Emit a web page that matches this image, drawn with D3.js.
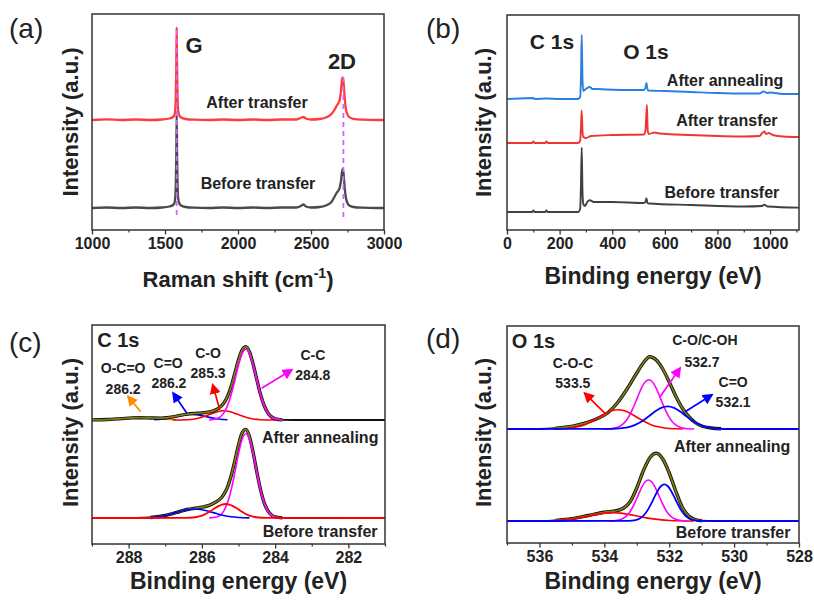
<!DOCTYPE html>
<html><head><meta charset="utf-8">
<script src="https://cdn.jsdelivr.net/npm/d3@7"></script>
<style>body{margin:0;background:#fff}svg{display:block}</style>
</head><body>
<svg id="fig" width="814" height="601"></svg>
<script>
// ---------------- DATA ----------------
// (a) Raman spectra: [Raman shift, intensity above own baseline]
const ramanTicks = [1000,1500,2000,2500,3000];
const ramanMinor = [1250,1750,2250,2750];
const ramanOffsets = {after:110, before:22};
const ramanAfter = [[1000,0],[1100,0.6],[1200,0],[1300,0.5],[1400,0],[1480,0.5],[1530,1.5],[1555,3],[1565,5],[1570,10],[1574,25],[1577,50],[1580,92.7],[1583,50],[1586,25],[1590,10],[1597,5],[1610,2.5],[1640,1],[1700,0.3],[1800,0],[1900,0.5],[2000,0],[2100,0.5],[2200,0],[2300,0.5],[2400,0.5],[2430,2],[2448,3],[2465,1.5],[2500,0.5],[2560,1],[2610,3],[2640,6],[2660,10],[2675,14],[2688,17],[2698,21],[2706,30],[2712,40],[2718,42.7],[2724,36],[2730,24],[2738,12],[2748,6],[2762,3],[2790,1.2],[2850,0.3],[2950,0],[3000,0]];
const ramanBefore = [[1000,0],[1100,0.5],[1200,0],[1300,0.5],[1400,0],[1480,0.5],[1530,1.5],[1555,3],[1565,5],[1570,10],[1574,25],[1577,50],[1580,93],[1583,50],[1586,25],[1590,10],[1597,5],[1610,2.5],[1640,1],[1700,0.3],[1800,0],[1900,0.5],[2000,0],[2100,0.5],[2200,0],[2300,0.5],[2400,0.5],[2430,2],[2448,3.5],[2465,1.5],[2500,0.5],[2560,1],[2610,3],[2640,6],[2660,11],[2675,15],[2688,17.5],[2698,21],[2706,28],[2712,36],[2718,39],[2724,33],[2730,22],[2738,11],[2748,5.5],[2762,2.5],[2790,1],[2850,0.3],[2950,0],[3000,0]];
const ramanGuides = [[1580,200,12],[2722,153,12]]; // x, top, bottom

// (b) XPS survey
const surveyTicks = [0,200,400,600,800,1000];
const surveyMinor = [100,300,500,700,900,1100];
const surveyOffsets = {annealing:131, transfer:87, before:18};
const surveyAnnealing = [[0,0],[50,0.5],[100,1],[105,0],[150,0.5],[200,0],[270,0],[278,2],[281,20],[284,64],[287,20],[290,8],[295,9],[305,11],[315,12],[325,10],[340,10],[380,9.5],[450,9],[520,9],[526,11],[530,16],[533,11],[537,8.5],[600,8],[700,7],[800,6],[900,5.5],[960,5.5],[975,7.5],[990,6],[1000,6.5],[1050,5],[1110,5]];
const surveyTransfer = [[0,0],[95,0],[100,1.5],[105,0],[145,0],[150,1.5],[155,0],[270,0],[278,2],[281,15],[284,32.6],[287,12],[290,6],[300,5],[320,7],[400,8],[520,8.5],[526,12],[529,25],[532,38],[535,12],[540,9],[560,10.5],[580,9.5],[700,8],[900,6.5],[960,7],[970,10],[978,11.5],[985,9],[995,10],[1010,8],[1050,6.5],[1110,6]];
const surveyBefore = [[0,0],[95,0],[100,1.5],[105,0],[145,0],[150,1.5],[155,0],[270,0],[278,3],[281,25],[284,64.4],[287,20],[290,8],[297,6],[305,10],[315,11.7],[330,10],[400,10],[520,9],[526,10],[530,13.7],[534,9],[540,8.5],[700,7],[900,5.5],[970,6],[978,7.4],[990,5.5],[1110,4.4]];

// (c) C 1s high resolution
const c1sTicks = [288,286,284,282];
const c1sMinor = [289,287,285,283,281];
const c1sOffsets = {annealing:124, before:26};
const c1sEnvUp = [[289,0.08],[288.6,0.46],[288.2,1.4],[287.9,2.12],[287.7,2.31],[287.4,2.05],[287.1,1.89],[286.8,3.08],[286.6,4.56],[286.4,5.89],[286.2,6.55],[286,6.98],[285.8,8.09],[285.6,10.49],[285.4,16.89],[285.3,23.6],[285.2,33.66],[285.1,46.7],[285,60.2],[284.9,70.2],[284.8,73.4],[284.7,68],[284.6,55.8],[284.5,40.4],[284.4,25.7],[284.3,14.5],[284.2,7.2],[284,1.2],[283.8,0.12],[283.5,0],[281,0]];
const c1sCCUp = [[283.8,0.1],[284,1.2],[284.1,3.1],[284.2,7.1],[284.3,14.4],[284.4,25.5],[284.5,39.8],[284.6,54.8],[284.7,66.3],[284.8,70.7],[284.9,66.3],[285,54.8],[285.1,39.8],[285.2,25.5],[285.3,14.4],[285.4,7.1],[285.5,3.1],[285.6,1.2],[285.8,0.1]];
const c1sCOUp = [[284,0],[284.4,0.3],[284.6,1],[284.8,2.7],[285,5.4],[285.2,8.1],[285.4,9.3],[285.6,8.1],[285.8,5.4],[286,2.7],[286.2,1],[286.4,0.3],[286.8,0]];
const c1sCdOUp = [[285.3,0.25],[285.5,0.77],[285.7,1.85],[285.9,3.46],[286.1,5.03],[286.3,5.7],[286.5,5.03],[286.7,3.46],[286.9,1.85],[287.1,0.77],[287.3,0.25]];
const c1sOCOUp = [[286.7,0.31],[287,0.86],[287.3,1.68],[287.7,2.3],[288.1,1.68],[288.4,0.86],[288.7,0.31],[289,0.08]];
const c1sEnvLo = [[289,0],[287.8,0.05],[287.4,0.5],[287,2.5],[286.8,4.4],[286.6,6.5],[286.4,8.5],[286.2,9.7],[286,10.8],[285.8,12.7],[285.6,16.35],[285.5,19.15],[285.4,23.6],[285.3,30.9],[285.2,42.2],[285.1,57.1],[285,73.1],[284.9,85.1],[284.8,88.6],[284.7,81.3],[284.6,65.5],[284.5,46.1],[284.4,28.6],[284.3,15.35],[284.2,7.3],[284.1,3],[284,1.05],[283.8,0.1],[283.5,0],[281,0]];
const c1sCCLo = [[283.8,0.1],[284,1.05],[284.1,2.95],[284.2,7.2],[284.3,15.2],[284.4,28.2],[284.5,45.4],[284.6,64.1],[284.7,78.7],[284.8,84.3],[284.9,78.7],[285,64.1],[285.1,45.4],[285.2,28.2],[285.3,15.2],[285.4,7.2],[285.5,2.95],[285.6,1.05],[285.8,0.1]];
const c1sCOLo = [[289,0],[286.55,0.04],[286.35,0.24],[286.15,1],[286.05,1.9],[285.95,3.2],[285.85,5],[285.75,7.3],[285.65,9.7],[285.55,11.9],[285.45,13.4],[285.35,14],[285.25,13.4],[285.15,11.9],[285.05,9.7],[284.95,7.3],[284.85,5],[284.75,3.2],[284.65,1.9],[284.55,1],[284.35,0.24],[284.15,0.04],[281,0]];
const c1sCdOLo = [[284.7,0.1],[285,0.5],[285.2,1.2],[285.4,2.5],[285.6,4.4],[285.8,6.5],[286,8.3],[286.2,9],[286.4,8.3],[286.6,6.5],[286.8,4.4],[287,2.5],[287.2,1.2],[287.4,0.5],[287.7,0.1]];
const c1sLabels = [["O-C=O",288.15,176],["286.2",288.15,155],["C=O",286.92,181],["286.2",286.9,161],["C-O",285.83,191],["285.3",285.83,171],["C-C",282.97,189],["284.8",282.97,169]];
const c1sArrows = [[287.67,132.3,288.01,147.3,"#ff8c00"],[286.41,130.7,286.78,150.7,"#0000ff"],[285.51,134,285.70,159,"#ff0000"],[284.37,155.7,283.55,174,"#ff00ff"]];

// (d) O 1s high resolution
const o1sTicks = [536,534,532,530,528];
const o1sMinor = [537,535,533,531,529];
const o1sOffsets = {annealing:114, before:22};
const o1sEnvUp = [[537,0],[536,0],[535.5,0.8],[534.9,3.3],[534.3,9.3],[533.9,16],[533.6,26],[533.3,40],[533,56],[532.8,66],[532.6,72.3],[532.4,69],[532.2,60],[532,47],[531.8,33],[531.6,21],[531.4,12.5],[531.2,6.5],[531,3],[530.7,1],[530.4,0.2],[530,0],[528,0]];
const o1sCOHUp = [[531.23,0.04],[531.43,0.26],[531.63,1.3],[531.83,4.8],[531.93,8.2],[532.03,13.3],[532.13,19.8],[532.23,27.5],[532.33,35.5],[532.43,42.6],[532.53,47.5],[532.63,49.3],[532.73,47.5],[532.83,42.6],[532.93,35.5],[533.03,27.5],[533.13,19.8],[533.23,13.3],[533.33,8.2],[533.43,4.8],[533.63,1.3],[533.83,0.26],[534.03,0.04]];
const o1sCdOUp = [[537,0],[533.85,0.09],[533.65,0.28],[533.45,0.8],[533.25,1.9],[533.05,4.1],[532.85,7.5],[532.65,12.2],[532.45,17.2],[532.25,21.1],[532.05,22.6],[531.85,21.1],[531.65,17.2],[531.45,12.2],[531.25,7.5],[531.05,4.1],[530.85,1.9],[530.65,0.8],[530.45,0.28],[530.25,0.09],[528,0]];
const o1sCOCUp = [[531.58,0.06],[531.78,0.18],[531.98,0.5],[532.18,1.2],[532.38,2.4],[532.58,4.6],[532.78,7.7],[532.98,11.5],[533.18,15.3],[533.38,18.2],[533.58,19.3],[533.78,18.2],[533.98,15.3],[534.18,11.5],[534.38,7.7],[534.58,4.6],[534.78,2.4],[534.98,1.2],[535.18,0.5],[535.38,0.18],[535.58,0.06]];
const o1sEnvLo = [[537,0],[536,0],[535.5,0.6],[535,2.3],[534.5,5.5],[534,8.7],[533.6,10.5],[533.4,13],[533.2,19.5],[533,33],[532.8,50],[532.6,63],[532.4,67.7],[532.2,62],[532,48],[531.8,30],[531.6,14],[531.4,5],[531.2,1.5],[531,0.3],[530.6,0],[528,0]];
const o1sCOHLo = [[531.44,0.05],[531.64,0.4],[531.84,2.2],[531.94,4.3],[532.04,7.8],[532.14,13],[532.24,19.7],[532.34,27.1],[532.44,34.1],[532.54,39.2],[532.64,41],[532.74,39.2],[532.84,34.1],[532.94,27.1],[533.04,19.7],[533.14,13],[533.24,7.8],[533.34,4.3],[533.44,2.2],[533.64,0.4],[533.84,0.05]];
const o1sCdOLo = [[537,0],[533.35,0.04],[533.15,0.37],[532.95,1.9],[532.85,3.9],[532.75,7],[532.65,11.6],[532.55,17.6],[532.45,24.3],[532.35,30.5],[532.25,35],[532.15,36.7],[532.05,35],[531.95,30.5],[531.85,24.3],[531.75,17.6],[531.65,11.6],[531.55,7],[531.45,3.9],[531.35,1.9],[531.15,0.37],[530.95,0.04],[528,0]];
const o1sCOCLo = [[531.24,0.03],[531.74,0.24],[531.99,0.55],[532.24,1.1],[532.49,2.1],[532.74,3.4],[532.99,5],[533.24,6.6],[533.49,7.85],[533.74,8.3],[533.99,7.85],[534.24,6.6],[534.49,5],[534.74,3.4],[534.99,2.1],[535.24,1.1],[535.49,0.55],[535.74,0.24],[536.24,0.03]];
const o1sLabels = [["C-O/C-OH",530.9,203],["532.7",530.99,181],["C-O-C",534.97,180],["533.5",534.97,160],["C=O",530.03,161],["532.1",530.03,141]];
const o1sArrows = [[533.98,129.7,534.60,149.7,"#ff0000"],[532.28,146.3,531.67,174.7,"#ff00ff"],[531.51,131.3,530.69,148,"#0000ff"]];

// ---------------- DRAWING ----------------
const FONT = "'Liberation Sans', Arial, Helvetica, sans-serif";
const svg = d3.select("#fig").style("font-family", FONT);
const defs = svg.append("defs");
const markerIds = {};
function arrowMarker(color){
  if (markerIds[color]) return markerIds[color];
  const id = "m" + Object.keys(markerIds).length;
  defs.append("marker").attr("id", id).attr("viewBox","0 0 10 10").attr("refX",8).attr("refY",5)
    .attr("markerUnits","userSpaceOnUse").attr("markerWidth",11).attr("markerHeight",11).attr("orient","auto")
    .append("path").attr("d","M0,0 L10,5 L0,10 Z").attr("fill", color);
  markerIds[color] = "url(#" + id + ")";
  return markerIds[color];
}

function makePanel(p){
  const x = d3.scaleLinear().domain(p.xDomain).range([p.left, p.right]);
  const y = d3.scaleLinear().domain([0, p.bottom - p.top]).range([p.bottom, p.top]);
  const g = svg.append("g");
  const curves = g.append("g");
  const ax = svg.append("g").attr("transform", `translate(0,${p.bottom})`)
    .call(d3.axisBottom(x).tickValues(p.ticks).tickSize(4.5).tickPadding(3.5).tickFormat(d3.format("d")));
  ax.select(".domain").remove();
  ax.selectAll("text").attr("font-size", 16).attr("font-weight","bold").attr("fill","#222").style("font-family",FONT);
  ax.selectAll("line").attr("stroke","#333").attr("stroke-width",1.3);
  const mx = svg.append("g").attr("transform", `translate(0,${p.bottom})`)
    .call(d3.axisBottom(x).tickValues(p.minor).tickSize(2.5).tickFormat(""));
  mx.select(".domain").remove();
  mx.selectAll("line").attr("stroke","#333").attr("stroke-width",1.2);
  svg.append("rect").attr("x",p.left).attr("y",p.top).attr("width",p.right-p.left).attr("height",p.bottom-p.top)
    .attr("fill","none").attr("stroke","#333").attr("stroke-width",1.5);
  svg.append("text").attr("x",p.letterX).attr("y",p.letterY).attr("dy","0.35em").attr("font-size",28).attr("fill","#222").text(p.letter);
  svg.append("text").attr("transform",`translate(${p.ylabX},${(p.top+p.bottom)/2 + p.ylabShift}) rotate(-90)`)
    .attr("text-anchor","middle").attr("dy","0.35em").attr("font-size",22).attr("font-weight","bold").attr("fill","#222").text("Intensity (a.u.)");
  const xt = svg.append("text").attr("x",(p.left+p.right)/2).attr("y",p.xlabY).attr("dy","0.35em")
    .attr("text-anchor","middle").attr("font-size",p.xlabSize).attr("font-weight","bold").attr("fill","#222");
  if (p.raman){
    xt.append("tspan").text("Raman shift (cm");
    xt.append("tspan").attr("dy",-9).attr("font-size",14).text("-1");
    xt.append("tspan").attr("dy",9).text(")");
  } else xt.text("Binding energy (eV)");
  return {x, y, g: curves};
}

function curve(P, pts, offset, color, width){
  const data = pts.map(d => [P.x(d[0]), P.y(d[1] + offset)]).sort((a,b) => a[0]-b[0]);
  P.g.append("path").attr("d", d3.line().curve(d3.curveMonotoneX)(data))
    .attr("fill","none").attr("stroke",color).attr("stroke-width",width).attr("stroke-linejoin","round");
}
// fitted envelope: black raw-data line underneath, olive fit on top
function envelope(P, pts, offset){
  curve(P, pts, offset, "#111", 1.8);
  const body = pts.filter(d => d[1] > 0.05);
  curve(P, body, offset, "#111", 3.4);
  curve(P, body, offset, "#7f7f10", 1.7);
}
function label(P, txt, xv, yv, size, anchor){
  P.g.append("text").attr("x",P.x(xv)).attr("y",P.y(yv)).attr("dy","0.35em").attr("text-anchor",anchor||"middle")
    .attr("font-size",size).attr("font-weight","bold").attr("fill","#222").text(txt);
}
function arrow(P, a){
  P.g.append("line").attr("x1",P.x(a[0])).attr("y1",P.y(a[1])).attr("x2",P.x(a[2])).attr("y2",P.y(a[3]))
    .attr("stroke",a[4]).attr("stroke-width",1.7).attr("marker-end", arrowMarker(a[4]));
}

// ---- (a)
const A = makePanel({xDomain:[1000,3000], left:92, right:384, top:14, bottom:230, ticks:ramanTicks, minor:ramanMinor,
  letter:"(a)", letterX:9, letterY:28, ylabX:70, ylabShift:0, xlabY:279, xlabSize:22, raman:true});
curve(A, ramanBefore, ramanOffsets.before, "#4a4a4a", 2.3);
curve(A, ramanAfter, ramanOffsets.after, "#ff3b3b", 2.3);
ramanGuides.forEach(gd => {
  A.g.append("line").attr("x1",A.x(gd[0])).attr("x2",A.x(gd[0])).attr("y1",A.y(gd[1])).attr("y2",A.y(gd[2]))
    .attr("stroke","#cc66ff").attr("stroke-width",1.8).attr("stroke-dasharray","5,4");
});
label(A, "G", 1699, 185, 22);
label(A, "2D", 2712, 169, 22);
label(A, "After transfer", 2130, 128, 16);
label(A, "Before transfer", 2137, 47, 16);

// ---- (b)
const B = makePanel({xDomain:[0,1110], left:507, right:799, top:15, bottom:230, ticks:surveyTicks, minor:surveyMinor,
  letter:"(b)", letterX:426, letterY:28, ylabX:483, ylabShift:0, xlabY:276, xlabSize:23});
curve(B, surveyBefore, surveyOffsets.before, "#404040", 1.9);
curve(B, surveyTransfer, surveyOffsets.transfer, "#f03535", 1.9);
curve(B, surveyAnnealing, surveyOffsets.annealing, "#2b7fe0", 1.9);
label(B, "C 1s", 171, 188, 21);
label(B, "O 1s", 528, 178, 21);
label(B, "After annealing", 829, 150, 16);
label(B, "After transfer", 836, 110, 16);
label(B, "Before transfer", 817, 38, 16);

// ---- (c)
const C = makePanel({xDomain:[289,281], left:92, right:385, top:325, bottom:544, ticks:c1sTicks, minor:c1sMinor,
  letter:"(c)", letterX:9, letterY:342, ylabX:70, ylabShift:-2, xlabY:581, xlabSize:23});
curve(C, c1sOCOUp, c1sOffsets.annealing, "#ff8c00", 1.6);
curve(C, c1sCdOUp, c1sOffsets.annealing, "#0000ff", 1.6);
curve(C, c1sCOUp, c1sOffsets.annealing, "#ff0000", 1.6);
envelope(C, c1sEnvUp, c1sOffsets.annealing);
curve(C, c1sCCUp, c1sOffsets.annealing, "#ff00ff", 1.6);
envelope(C, c1sEnvLo, c1sOffsets.before);
curve(C, c1sCCLo, c1sOffsets.before, "#ff00ff", 1.6);
curve(C, c1sCdOLo, c1sOffsets.before, "#0000ff", 1.6);
curve(C, c1sCOLo, c1sOffsets.before, "#ff0000", 1.8);
c1sArrows.forEach(a => arrow(C, a));
c1sLabels.forEach(l => label(C, l[0], l[1], l[2], 14));
label(C, "C 1s", 288.86, 204, 20, "start");
label(C, "After annealing", 282.77, 107, 16);
label(C, "Before transfer", 282.77, 13, 16);

// ---- (d)
const D = makePanel({xDomain:[537,528], left:507, right:799, top:326, bottom:543, ticks:o1sTicks, minor:o1sMinor,
  letter:"(d)", letterX:426, letterY:338, ylabX:483, ylabShift:-2, xlabY:581, xlabSize:23});
envelope(D, o1sEnvUp, o1sOffsets.annealing);
curve(D, o1sCOCUp, o1sOffsets.annealing, "#ff0000", 1.6);
curve(D, o1sCOHUp, o1sOffsets.annealing, "#ff00ff", 1.6);
curve(D, o1sCdOUp, o1sOffsets.annealing, "#0000ff", 1.8);
envelope(D, o1sEnvLo, o1sOffsets.before);
curve(D, o1sCOCLo, o1sOffsets.before, "#ff0000", 1.6);
curve(D, o1sCOHLo, o1sOffsets.before, "#ff00ff", 1.6);
curve(D, o1sCdOLo, o1sOffsets.before, "#0000ff", 1.8);
o1sArrows.forEach(a => arrow(D, a));
o1sLabels.forEach(l => label(D, l[0], l[1], l[2], 14));
label(D, "O 1s", 536.85, 202, 20, "start");
label(D, "After annealing", 530.06, 97, 16);
label(D, "Before transfer", 530.03, 11, 16);
</script>
</body></html>
